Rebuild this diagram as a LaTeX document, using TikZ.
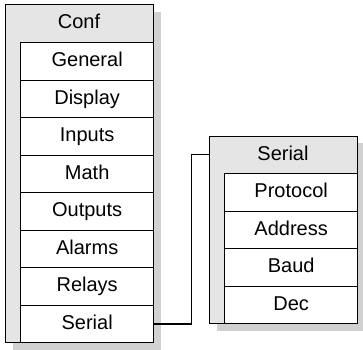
\documentclass[tikz,border=0pt]{standalone}
\usepackage{fontspec}
\setmainfont{Liberation Sans}
\usetikzlibrary{positioning}
\definecolor{panelgray}{gray}{0.9}
\definecolor{shadowgray}{gray}{0.82}

\begin{document}
\begin{tikzpicture}[x=1pt,y=-1pt,
  panel/.style={draw,fill=panelgray,line width=1.3pt,inner sep=0pt,minimum width=148pt},
  item/.style={draw,fill=white,line width=1.3pt,inner sep=0pt,minimum width=133pt,
    minimum height=37.5pt,text height=15pt,text depth=4pt,font=\fontsize{20}{24}\selectfont},
  title/.style={inner sep=0pt,text height=15pt,text depth=4pt,font=\fontsize{20}{24}\selectfont}]
\useasboundingbox (0,0) rectangle (363,349);
\def\h{37.5}; % height of one row
% left panel
\fill[shadowgray] (13,12) rectangle (161,350);
\node[panel,minimum height=338pt,anchor=north west] (conf) at (5,4) {};
\node[title] (conftitle) at (79,23) {Conf};
\foreach \t [count=\i] in {General,Display,Inputs,Math,Outputs,Alarms,Relays,Serial}
  \node[item,anchor=north west] (c\i) at (20,{42+(\i-1)*\h}) {\t};

% right panel
\fill[shadowgray] (217,143) rectangle (365,331);
\node[panel,minimum height=187pt,anchor=north west] (serial) at (209,136) {};
\node[title] (serialtitle) at (283,154.5) {Serial};
\foreach \t [count=\i] in {Protocol,Address,Baud,Dec}
  \node[item,anchor=north west] (s\i) at (224,{173+(\i-1)*\h}) {\t};

% link
\draw[line width=1.3pt] (c8.east) -- ++(37,0) |- (serial.west |- serialtitle);
\end{tikzpicture}
\end{document}
